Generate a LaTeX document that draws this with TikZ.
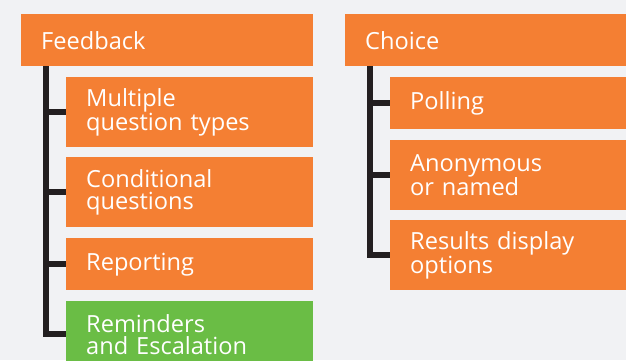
\documentclass[tikz,border=0pt]{standalone}
\usepackage{fontspec}
\setmainfont{Open Sans}
\definecolor{bgc}{HTML}{F1F2F4}
\definecolor{boxo}{HTML}{F47F33}
\definecolor{boxg}{HTML}{6ABD45}
\definecolor{linec}{HTML}{231F20}
\pgfdeclarelayer{bglayer}
\pgfdeclarelayer{linelayer}
\pgfsetlayers{bglayer,linelayer,main}
\begin{document}
\begin{tikzpicture}[x=1pt,y=-1pt,
  box/.style={rectangle, fill=boxo, anchor=north west, inner xsep=20pt, inner ysep=0pt,
    align=left, text=white, font=\fontsize{23.6}{22}\selectfont},
  green/.style={fill=boxg},
  conn/.style={draw=linec, line width=5.5pt, line join=miter}]
\begin{pgfonlayer}{bglayer}
\fill[bgc] (0,0) rectangle (626,360);
\end{pgfonlayer}
\clip (0,0) rectangle (626,360);
% Feedback column
\node[box, text width=252pt, minimum height=52pt] (fb) at (21,14) {Feedback};
\node[box, text width=207pt, minimum height=70pt] (mq) at (66,77) {Multiple\\question types};
\node[box, text width=207pt, minimum height=70pt] (cq) at (66,157) {Conditional\\questions};
\node[box, text width=207pt, minimum height=52pt] (rep) at (66,238) {Reporting};
\node[box, green, text width=207pt, minimum height=66pt] (rem) at (66,301) {Reminders\\and Escalation};
% Choice column
\node[box, text width=255pt, minimum height=52pt] (ch) at (345,14) {Choice};
\node[box, text width=210pt, minimum height=52pt] (pol) at (390,77) {Polling};
\node[box, text width=210pt, minimum height=70pt] (anon) at (390,140) {Anonymous\\or named};
\node[box, text width=210pt, minimum height=70pt] (res) at (390,220) {Results display\\options};
\coordinate (fbt) at ([xshift=25pt]fb.south west);
\coordinate (cht) at ([xshift=25pt]ch.south west);
\begin{pgfonlayer}{linelayer}
\draw[conn] (fbt) |- (rem.west);
\draw[conn] (fbt |- mq.west) -- (mq.west);
\draw[conn] (fbt |- cq.west) -- (cq.west);
\draw[conn] (fbt |- rep.west) -- (rep.west);
\draw[conn] (cht) |- (res.west);
\draw[conn] (cht |- pol.west) -- (pol.west);
\draw[conn] (cht |- anon.west) -- (anon.west);
\end{pgfonlayer}
\end{tikzpicture}
\end{document}
